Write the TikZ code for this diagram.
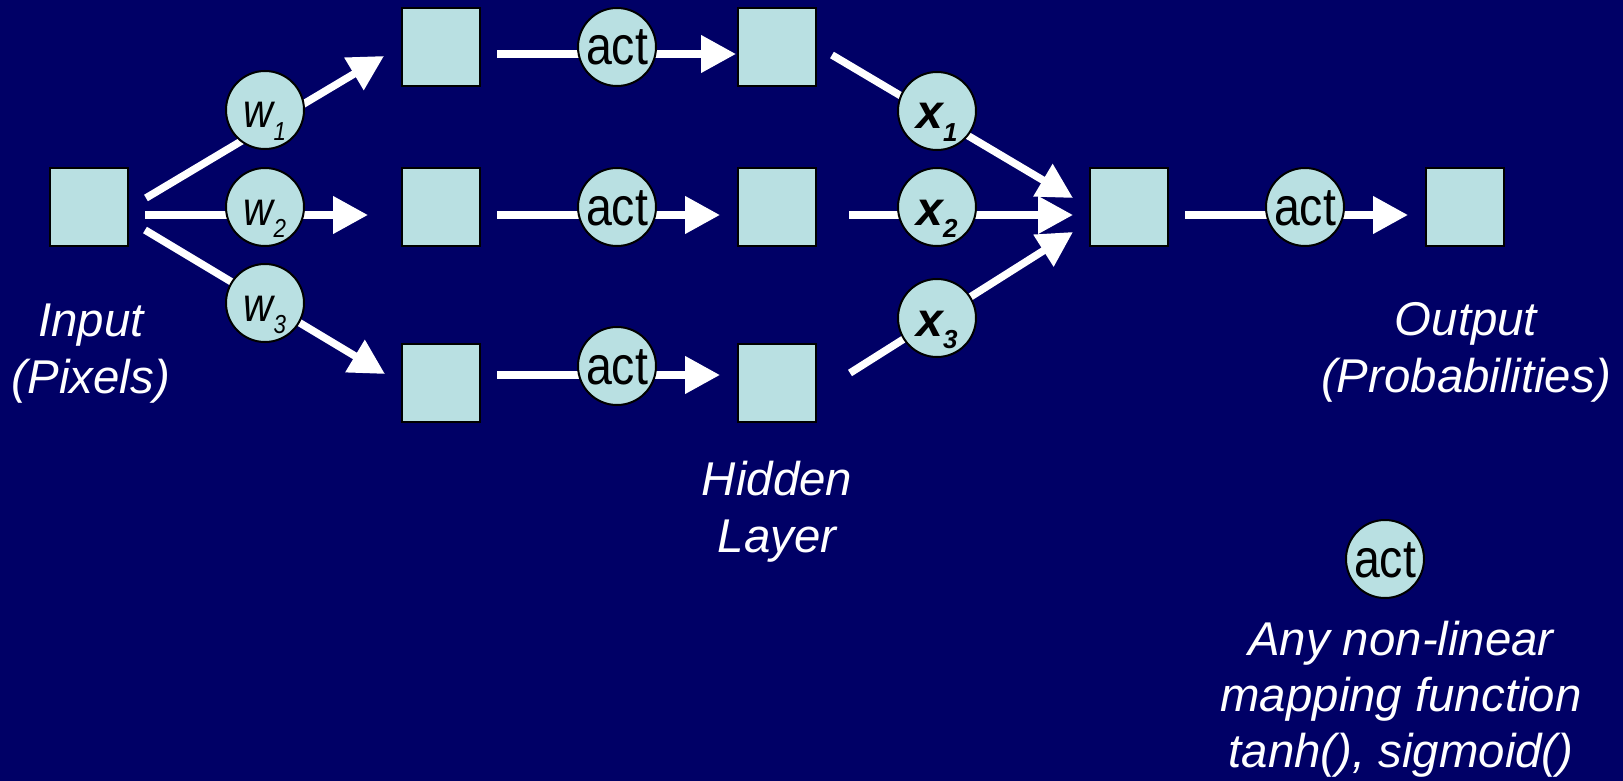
\documentclass[tikz,border=0pt]{standalone}
\usepackage{fontspec}
\setmainfont{Liberation Sans}
\newfontfamily\actfont[FakeStretch=0.86]{Liberation Sans}
\usetikzlibrary{arrows.meta}

\definecolor{slide}{RGB}{0,0,102}
\definecolor{cell}{RGB}{185,224,226}
% lowered index for w_i and x_i
\newcommand{\idx}[1]{\raisebox{-6pt}{\fontsize{13pt}{13pt}\selectfont #1}}

\begin{document}
\begin{tikzpicture}[x=0.5pt,y=-0.5pt,>={Triangle[length=17.5pt,width=18pt]},
  unit/.style={draw=black,line width=1pt,fill=cell,minimum size=39pt,inner sep=0pt},
  gate/.style={circle,draw=black,line width=1pt,fill=cell,minimum size=39pt,inner sep=0pt,
    text height=18pt,text depth=0pt,font=\actfont\fontsize{27pt}{27pt}\selectfont},
  wire/.style={white,line width=3.75pt,->},
  caption/.style={white,align=center,anchor=base,inner sep=0pt,
    font=\fontsize{23.7pt}{28.5pt}\selectfont\itshape}]

  \fill[slide] (0,0) rectangle (1623,781);
  \useasboundingbox (0,0) rectangle (1623,781);

  % units
  \node[unit] (in) at (89,207) {};
  \foreach \i/\y in {1/47,2/207,3/383}{
    \node[unit] (ha\i) at (441,\y) {};
    \node[unit] (hb\i) at (777,\y) {};
  }
  \node[unit] (sum) at (1129,207) {};
  \node[unit] (out) at (1465,207) {};

  % input -> hidden
  \draw[wire] ([shift={(17,-9)}]in.east) -- ([shift={(-17,9)}]ha1.west);
  \draw[wire] ([shift={(16,8)}]in.east) -- ([shift={(-33,8)}]ha2.west);
  \draw[wire] ([shift={(16,23)}]in.east) -- ([shift={(-16,-9)}]ha3.west);
  % through the activations
  \draw[wire] ([shift={(16,7)}]ha1.east) -- ([shift={(-1,7)}]hb1.west);
  \draw[wire] ([shift={(16,8)}]ha2.east) -- ([shift={(-17,8)}]hb2.west);
  \draw[wire] ([shift={(16,-8)}]ha3.east) -- ([shift={(-17,-8)}]hb3.west);
  % hidden -> output
  \draw[wire] ([shift={(15,8)}]hb1.east) -- ([shift={(-16,-9)}]sum.west);
  \draw[wire] ([shift={(32,8)}]hb2.east) -- ([shift={(-16,8)}]sum.west);
  \draw[wire] ([shift={(33,-10)}]hb3.east) -- ([shift={(-16,25)}]sum.west);
  \draw[wire] ([shift={(16,8)}]sum.east) -- ([shift={(-17,8)}]out.west);

  % weights, activations, hidden values
  \foreach \i/\y in {1/110,2/207,3/303}
    \node[gate] (w\i) at (265,\y) {\itshape\fontsize{24pt}{24pt}\selectfont w\idx{\i}};
  \foreach \i/\y in {1/47,2/207,3/366}
    \node[gate] (act\i) at (617,\y) {act};
  \foreach \i/\y in {1/111,2/207,3/318}
    \node[gate] (x\i) at (937,\y) {\normalfont\bfseries\itshape\fontsize{24pt}{24pt}\selectfont x\idx{\i}};
  \node[gate] (act4) at (1305,207) {act};
  \node[gate] (key) at (1385,559) {act};

  % labels (base = last line)
  \node[caption] (inlbl) at (91,393) {Input\\(Pixels)};
  \node[caption] (hidlbl) at (777,552) {Hidden\\Layer};
  \node[caption] (outlbl) at (1466,392) {Output\\(Probabilities)};
  \node[caption,font=\fontsize{23.7pt}{28pt}\selectfont\itshape] (keylbl) at (1401,767)
    {Any non-linear\\mapping function\\tanh(), sigmoid()};
\end{tikzpicture}
\end{document}
